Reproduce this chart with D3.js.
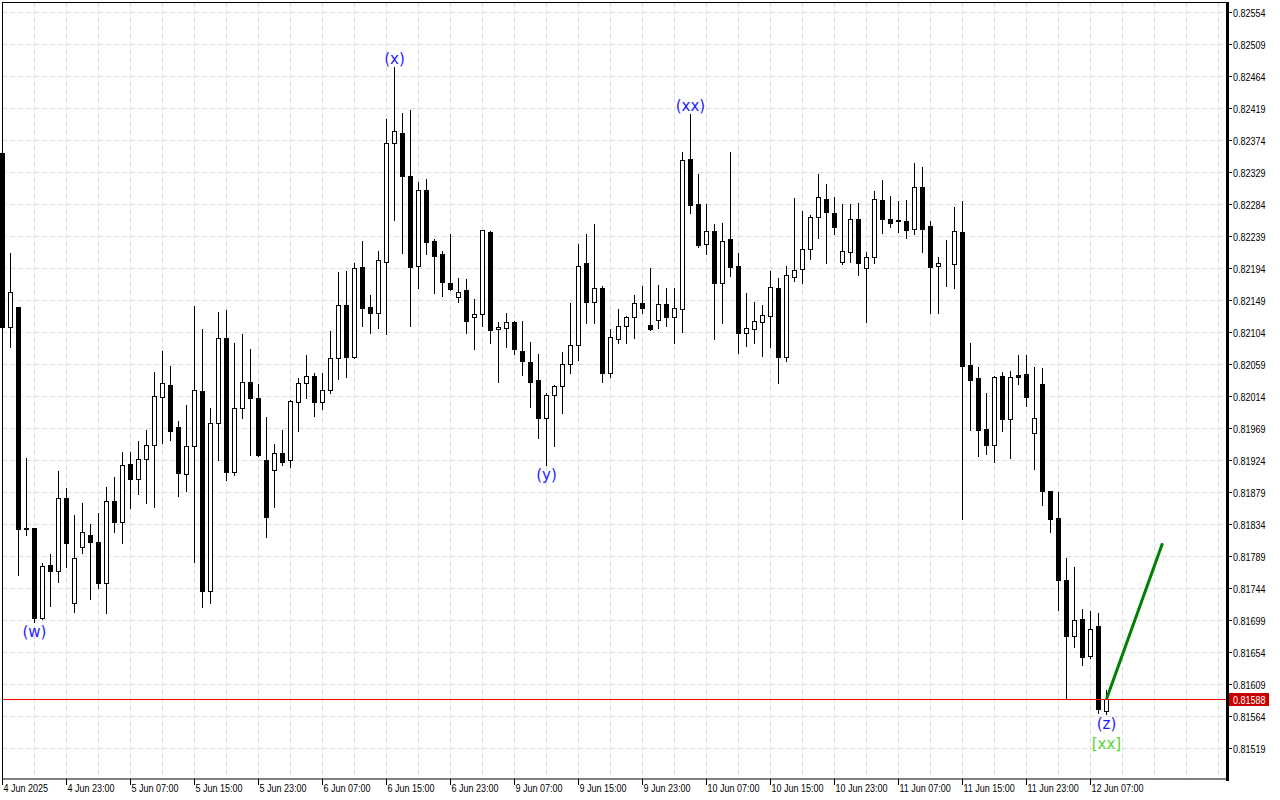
<!DOCTYPE html>
<html><head><meta charset="utf-8">
<script src="https://cdn.jsdelivr.net/npm/d3@7"></script>
<style>html,body{margin:0;padding:0;background:#fff;} svg{display:block;}</style>
</head><body>
<svg id="c" width="1280" height="800"></svg>
<script>
// ---- DATA (H1 bars, index 0 = 4 Jun 2025 15:00) ----
const opens = [
0.82356,0.82111,0.82139,0.81828,0.81828,0.81702,0.81776,0.81768,0.81871,0.81723,
0.81802,0.81818,0.81809,0.81751,0.81866,0.81837,0.81918,0.81897,0.81925,0.81945,
0.82013,0.82029,0.81970,0.81904,0.81944,0.82021,0.81740,0.81976,0.82096,0.81907,
0.81997,0.82034,0.82011,0.81924,0.81910,0.81934,0.81924,0.82006,0.82032,0.82042,
0.82006,0.82022,0.82067,0.82142,0.82069,0.82195,0.82139,0.82131,0.82202,0.82370,
0.82384,0.82323,0.82197,0.82304,0.82232,0.82214,0.82173,0.82153,0.82163,0.82125,
0.82129,0.82245,0.82108,0.82110,0.82118,0.82077,0.82062,0.82036,0.81983,0.82015,
0.82028,0.82059,0.82086,0.82201,0.82146,0.82166,0.82046,0.82094,0.82112,0.82125,
0.82145,0.82114,0.82121,0.82143,0.82125,0.82136,0.82347,0.82284,0.82228,0.82246,
0.82173,0.82235,0.82197,0.82103,0.82108,0.82118,0.82126,0.82166,0.82069,0.82181,
0.82193,0.82221,0.82266,0.82291,0.82271,0.82202,0.82216,0.82263,0.82194,0.82209,
0.82290,0.82263,0.82261,0.82260,0.82249,0.82308,0.82253,0.82197,0.82200,0.82200,
0.82245,0.82058,0.82039,0.81968,0.81945,0.82042,0.81982,0.82043,0.82045,0.81962,
0.82031,0.81880,0.81842,0.81755,0.81676,0.81700,0.81648,0.81691,0.81571];
const highs = [
0.82357,0.82215,0.82139,0.81927,0.81828,0.81779,0.81792,0.81908,0.81885,0.81847,
0.81863,0.81834,0.81849,0.81886,0.81900,0.81935,0.81935,0.81951,0.81966,0.82048,
0.82077,0.82056,0.81979,0.82001,0.82141,0.82108,0.81997,0.82132,0.82135,0.82088,
0.82101,0.82080,0.82031,0.81984,0.81946,0.81966,0.82008,0.82039,0.82072,0.82046,
0.82046,0.82105,0.82188,0.82190,0.82201,0.82232,0.82156,0.82218,0.82403,0.82477,
0.82412,0.82416,0.82315,0.82319,0.82235,0.82218,0.82242,0.82180,0.82178,0.82150,
0.82248,0.82246,0.82118,0.82131,0.82119,0.82119,0.82090,0.82073,0.82018,0.82029,
0.82076,0.82145,0.82228,0.82242,0.82256,0.82168,0.82108,0.82136,0.82127,0.82156,
0.82169,0.82194,0.82170,0.82166,0.82166,0.82357,0.82411,0.82326,0.82284,0.82256,
0.82257,0.82357,0.82215,0.82159,0.82146,0.82142,0.82190,0.82180,0.82197,0.82292,
0.82274,0.82268,0.82326,0.82312,0.82294,0.82284,0.82284,0.82285,0.82216,0.82302,
0.82318,0.82295,0.82288,0.82290,0.82342,0.82336,0.82260,0.82209,0.82233,0.82280,
0.82288,0.82088,0.82055,0.82018,0.82042,0.82048,0.82049,0.82072,0.82072,0.82055,
0.82053,0.81881,0.81879,0.81786,0.81773,0.81714,0.81712,0.81709,0.81601];
const lows = [
0.82110,0.82083,0.81762,0.81818,0.81696,0.81700,0.81719,0.81752,0.81773,0.81710,
0.81793,0.81728,0.81744,0.81709,0.81823,0.81807,0.81856,0.81876,0.81863,0.81858,
0.81948,0.81952,0.81873,0.81880,0.81781,0.81717,0.81723,0.81924,0.81896,0.81903,
0.81983,0.81931,0.81930,0.81816,0.81858,0.81917,0.81914,0.81965,0.82011,0.81986,
0.81996,0.82018,0.82038,0.82041,0.82067,0.82112,0.82103,0.82110,0.82101,0.82261,
0.82215,0.82112,0.82166,0.82214,0.82159,0.82155,0.82163,0.82146,0.82103,0.82080,
0.82112,0.82088,0.82034,0.82083,0.82073,0.82043,0.81998,0.81955,0.81917,0.81944,
0.81990,0.82046,0.82065,0.82117,0.82117,0.82034,0.82041,0.82088,0.82088,0.82096,
0.82131,0.82107,0.82110,0.82112,0.82088,0.82104,0.82271,0.82224,0.82214,0.82094,
0.82117,0.82183,0.82074,0.82084,0.82088,0.82070,0.82083,0.82032,0.82063,0.82176,
0.82173,0.82207,0.82236,0.82201,0.82242,0.82200,0.82202,0.82184,0.82118,0.82201,
0.82243,0.82252,0.82245,0.82236,0.82242,0.82216,0.82131,0.82131,0.82169,0.82166,
0.81841,0.81966,0.81930,0.81932,0.81921,0.81965,0.81927,0.82031,0.82000,0.81911,
0.81861,0.81823,0.81713,0.81588,0.81661,0.81636,0.81646,0.81568,0.81567];
const closes = [
0.82111,0.82160,0.81827,0.81827,0.81702,0.81775,0.81768,0.81871,0.81807,0.81786,
0.81823,0.81809,0.81751,0.81866,0.81837,0.81917,0.81897,0.81925,0.81945,0.82014,
0.82032,0.81965,0.81906,0.81944,0.82022,0.81740,0.81976,0.82096,0.81907,0.81997,
0.82034,0.82011,0.81931,0.81844,0.81934,0.81921,0.82007,0.82032,0.82042,0.82006,
0.82022,0.82067,0.82142,0.82069,0.82194,0.82138,0.82131,0.82205,0.82370,0.82387,
0.82323,0.82195,0.82304,0.82231,0.82211,0.82174,0.82164,0.82160,0.82119,0.82129,
0.82247,0.82107,0.82111,0.82118,0.82080,0.82063,0.82034,0.81983,0.82015,0.82028,
0.82059,0.82086,0.82197,0.82146,0.82166,0.82046,0.82097,0.82112,0.82125,0.82145,
0.82138,0.82108,0.82143,0.82125,0.82138,0.82346,0.82283,0.82226,0.82246,0.82173,
0.82232,0.82195,0.82103,0.82110,0.82119,0.82128,0.82167,0.82069,0.82184,0.82191,
0.82221,0.82266,0.82294,0.82273,0.82252,0.82218,0.82263,0.82201,0.82209,0.82291,
0.82263,0.82257,0.82260,0.82247,0.82308,0.82249,0.82195,0.82201,0.82199,0.82246,
0.82056,0.82036,0.81966,0.81945,0.82041,0.81982,0.82041,0.82041,0.82013,0.81983,
0.81880,0.81841,0.81755,0.81676,0.81699,0.81647,0.81686,0.81574,0.81588];

const priceTicks = [0.82554,0.82509,0.82464,0.82419,0.82374,0.82329,0.82284,0.82239,0.82194,0.82149,0.82104,0.82059,0.82014,0.81969,0.81924,0.81879,0.81834,0.81789,0.81744,0.81699,0.81654,0.81609,0.81564,0.81519];
const timeTickIndex = [0,8,16,24,32,40,48,56,64,72,80,88,96,104,112,120,128,136];
const timeTickLabels = ["4 Jun 2025","4 Jun 23:00","5 Jun 07:00","5 Jun 15:00","5 Jun 23:00","6 Jun 07:00","6 Jun 15:00","6 Jun 23:00","9 Jun 07:00","9 Jun 15:00","9 Jun 23:00","10 Jun 07:00","10 Jun 15:00","10 Jun 23:00","11 Jun 07:00","11 Jun 15:00","11 Jun 23:00","12 Jun 07:00"];
const currentPrice = 0.81588;
const waveIndex = [4,49,68,86,138];
const waveText = ["(w)","(x)","(y)","(xx)","(z)"];
const waveSide = ["below","above","below","above","below"];
const projIndex = [138,145];
const projPrice = [0.81588,0.81807];
const degreeLabel = "[xx]";

// ---- CHART ----
const n = opens.length;
if (highs.length!==n || lows.length!==n || closes.length!==n) throw new Error("length mismatch "+[n,highs.length,lows.length,closes.length]);
const svg = d3.select("#c");
const X0=2, X1=1226, Y0=2, Y1=779;
const xs = d3.scaleLinear().domain([0,153]).range([2.5,1226.5]);
const ys = d3.scaleLinear().domain([0.81519,0.82554]).range([748,12]);
const cy = v => Math.round(ys(v))+0.5;
const FONT = "'Liberation Sans', Arial, sans-serif";
const FS = 10, SX = 0.9;

svg.append("rect").attr("width",1280).attr("height",800).attr("fill","#fff");

// grid
const g = svg.append("g");
g.selectAll("line.h").data(priceTicks).join("line")
  .attr("x1",X0).attr("x2",X1).attr("y1",d=>cy(d)).attr("y2",d=>cy(d))
  .attr("stroke","#dcdcdc").attr("stroke-dasharray","5,3");
g.selectAll("line.v").data(d3.range(4,153,4)).join("line")
  .attr("x1",d=>xs(d)).attr("x2",d=>xs(d)).attr("y1",Y0).attr("y2",Y1)
  .attr("stroke","#dcdcdc").attr("stroke-dasharray","5,3");

// candles
const idx = d3.range(n);
const cg = svg.append("g");
cg.selectAll("line.w").data(idx).join("line")
  .attr("x1",i=>xs(i)).attr("x2",i=>xs(i))
  .attr("y1",i=>Math.round(ys(highs[i]))).attr("y2",i=>Math.round(ys(lows[i]))+1)
  .attr("stroke","#000").attr("stroke-width",1);
cg.selectAll("rect.b").data(idx).join("rect")
  .attr("x",i=>xs(i)-2).attr("width",4)
  .attr("y",i=>cy(Math.max(opens[i],closes[i])))
  .attr("height",i=>Math.max(0,cy(Math.min(opens[i],closes[i]))-cy(Math.max(opens[i],closes[i]))))
  .attr("fill",i=>closes[i]>opens[i]?"#fff":"#000")
  .attr("stroke","#000").attr("stroke-width",1);

// current price line (1px filled rect)
svg.append("rect").attr("x",X0).attr("width",X1-X0)
  .attr("y",Math.round(ys(currentPrice))).attr("height",1)
  .attr("fill","#ff0000").attr("shape-rendering","crispEdges");

// projection line
svg.append("line")
  .attr("x1",xs(projIndex[0])).attr("y1",ys(projPrice[0]))
  .attr("x2",xs(projIndex[1])).attr("y2",ys(projPrice[1]))
  .attr("stroke","#008000").attr("stroke-width",3);

// wave labels
const wl = svg.append("g").attr("font-family","'DejaVu Sans', Verdana, sans-serif").attr("font-size",15).attr("fill","#1c1cff").attr("text-anchor","middle");
waveIndex.forEach((i,k)=>{
  const below = waveSide[k]==="below";
  const y = below ? ys(lows[i])+15 : ys(highs[i])-3;
  wl.append("text").attr("x",xs(i)).attr("y",y).text(waveText[k]);
});
svg.append("text").attr("x",xs(projIndex[0])).attr("y",ys(lows[projIndex[0]])+35)
  .attr("font-family","'DejaVu Sans', Verdana, sans-serif").attr("font-size",15)
  .attr("fill","#55d633").attr("text-anchor","middle").text(degreeLabel);

// frame
svg.append("rect").attr("x",2.5).attr("y",2.5).attr("width",1224).attr("height",776.5)
  .attr("fill","none").attr("stroke","#000").attr("stroke-width",1);
svg.append("line").attr("x1",1227.5).attr("x2",1227.5).attr("y1",2).attr("y2",781)
  .attr("stroke","#000").attr("stroke-width",3);

// right axis
const ra = svg.append("g").attr("font-family",FONT).attr("font-size",FS).attr("fill","#000");
ra.selectAll("line").data(priceTicks).join("line")
  .attr("x1",1228).attr("x2",1232).attr("y1",d=>cy(d)).attr("y2",d=>cy(d)).attr("stroke","#000");
ra.selectAll("text").data(priceTicks).join("text")
  .attr("transform",d=>`translate(1233,${cy(d)+4}) scale(${SX},1)`).text(d=>d.toFixed(5));
// current price tag
svg.append("rect").attr("x",1229).attr("y",cy(currentPrice)-6.5).attr("width",40).attr("height",13).attr("fill","#c80000");
svg.append("text").attr("transform",`translate(1233,${cy(currentPrice)+4}) scale(${SX},1)`)
  .attr("font-family",FONT).attr("font-size",FS).attr("fill","#fff").text(currentPrice.toFixed(5));

// bottom axis
const ba = svg.append("g").attr("font-family",FONT).attr("font-size",FS).attr("fill","#000");
ba.selectAll("line").data(timeTickIndex).join("line")
  .attr("x1",i=>xs(i)).attr("x2",i=>xs(i)).attr("y1",779).attr("y2",785).attr("stroke","#000");
ba.selectAll("text").data(timeTickIndex).join("text")
  .attr("transform",i=>`translate(${xs(i)+1},792) scale(${SX},1)`).text((i,k)=>timeTickLabels[k]);
</script>
</body></html>
